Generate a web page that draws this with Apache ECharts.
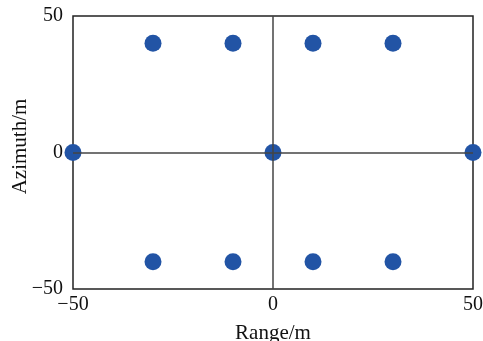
<!DOCTYPE html>
<html>
<head>
<meta charset="utf-8">
<script src="https://cdn.jsdelivr.net/npm/echarts@6/dist/echarts.min.js"></script>
<style>
html, body { margin: 0; padding: 0; background: #fff; }
#chart { width: 483px; height: 341px; }
</style>
</head>
<body>
<div id="chart"></div>
<script>
// target positions (m)
var rangeVals = [-30, -10, 10, 30, -50, 0, 50, -30, -10, 10, 30];
var azimuthVals = [40, 40, 40, 40, 0, 0, 0, -40, -40, -40, -40];

var points = rangeVals.map(function (r, i) { return [r, azimuthVals[i]]; });

var font = '"Liberation Serif", "DejaVu Serif", serif';
var minusFmt = function (v) { return String(v).replace('-', '\u2212'); };

var chart = echarts.init(document.getElementById('chart'));
chart.setOption({
    animation: false,
    grid: {
        left: 73, right: 10, top: 16, bottom: 52,
        outerBoundsMode: 'none', containLabel: false,
        show: true, borderColor: '#222', borderWidth: 1.5, backgroundColor: 'transparent'
    },
    xAxis: {
        type: 'value', min: -50, max: 50, interval: 50,
        name: 'Range/m', nameLocation: 'middle', nameGap: 34, nameMoveOverlap: false,
        nameTextStyle: { fontFamily: font, fontSize: 21, color: '#111' },
        axisLine: { show: false },
        axisTick: { show: false },
        splitLine: { show: false },
        axisLabel: { fontFamily: font, fontSize: 20, color: '#111', margin: 6, formatter: minusFmt }
    },
    yAxis: {
        type: 'value', min: -50, max: 50, interval: 50,
        name: 'Azimuth/m', nameLocation: 'middle', nameGap: 42, nameMoveOverlap: false,
        nameTextStyle: { fontFamily: font, fontSize: 21, color: '#111', padding: [0, 0, 0, 12] },
        axisLine: { show: false },
        axisTick: { show: false },
        splitLine: { show: false },
        axisLabel: { fontFamily: font, fontSize: 20, color: '#111', margin: 10, formatter: minusFmt }
    },
    series: [{
        type: 'scatter',
        data: points,
        symbolSize: 17,
        itemStyle: { color: '#2254a5', opacity: 1 },
        markLine: {
            silent: true,
            symbol: 'none',
            label: { show: false },
            lineStyle: { color: '#444', width: 1.5, type: 'solid' },
            data: [{ xAxis: 0 }, { yAxis: 0 }]
        },
        z: 3
    }]
});
</script>
</body>
</html>
